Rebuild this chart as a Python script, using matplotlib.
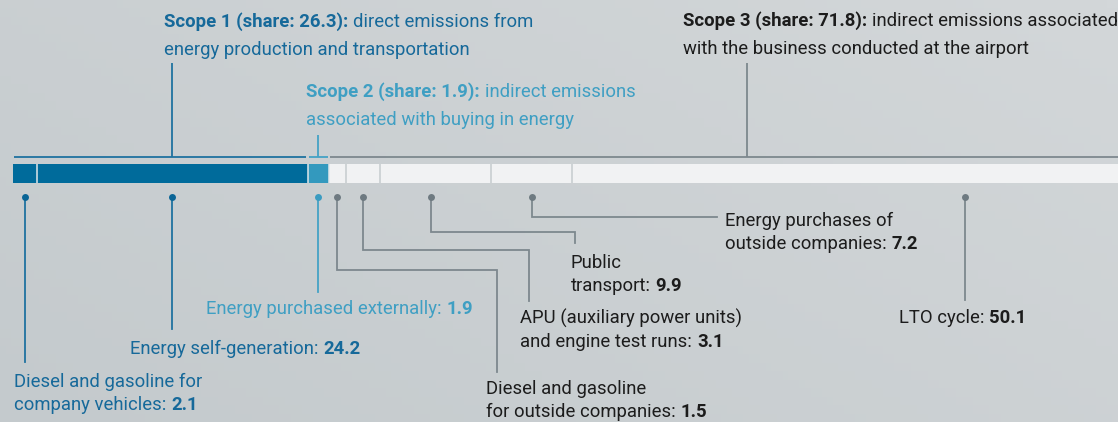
import matplotlib
matplotlib.use("Agg")
import matplotlib.pyplot as plt
import numpy as np
from matplotlib import font_manager as fm
from matplotlib.colors import LinearSegmentedColormap

# ---------------- data ----------------
categories = [
    "Diesel and gasoline for company vehicles",
    "Energy self-generation",
    "Energy purchased externally",
    "Diesel and gasoline for outside companies",
    "APU (auxiliary power units) and engine test runs",
    "Public transport",
    "Energy purchases of outside companies",
    "LTO cycle",
]
values = [2.1, 24.2, 1.9, 1.5, 3.1, 9.9, 7.2, 50.1]
scope_of = [0, 0, 1, 2, 2, 2, 2, 2]
scope_names = ["Scope 1", "Scope 2", "Scope 3"]
scope_shares = [26.3, 1.9, 71.8]
scope_desc_l1 = ["direct emissions from", "indirect emissions", "indirect emissions associated"]
scope_desc_l2 = ["energy production and transportation", "associated with buying in energy",
                 "with the business conducted at the airport"]

# ---------------- style / layout ----------------
W, H = 1118, 422
cands = ["Roboto", "Liberation Sans"]
FONT = "DejaVu Sans"
for c in cands:
    try:
        fm.findfont(c, fallback_to_default=False)
        FONT = c
        break
    except Exception:
        pass
FS = 13.3

scope_bar = ["#006b9b", "#3399be", "#f1f2f3"]
scope_line = ["#1f72a0", "#45a2c5", "#7d888e"]
scope_dot = ["#0a6596", "#3a9cc1", "#6e7a81"]
scope_text = ["#16699a", "#3f9fc3", "#1c1c1c"]
sep_colors = ["#dfe6ea", "#dfe6ea", "#dfe6ea", "#c5cbce", "#c5cbce", "#c5cbce", "#c5cbce"]

anchor_frac = [0.5, 0.5, 0.5, 0.5, 0.5, 0.46, 0.5, 0.70]
scope_anchor_frac = [0.54, 0.5, 0.52]

fig = plt.figure(figsize=(W / 100, H / 100), dpi=100)

# background gradient
bg = fig.add_axes([0, 0, 1, 1], zorder=0)
bg.set_axis_off()
yy, xx = np.mgrid[0:1:50j, 0:1:200j]
grad = 0.6 * xx + 0.4 * (1 - yy)
cmap = LinearSegmentedColormap.from_list("bg", ["#c4cacd", "#d3d7d9"])
bg.imshow(grad, cmap=cmap, aspect="auto", extent=[0, 1, 0, 1], origin="upper")

# data axes (x in data units, y in pixels from top)
ax = fig.add_axes([0, 0, 1, 1], zorder=1)
ax.set_axis_off()
ax.patch.set_alpha(0)
ax.set_xlim(-13 / 11.2, (W - 13) / 11.2)
ax.set_ylim(H, 0)

lefts = np.concatenate([[0], np.cumsum(values)[:-1]])
bar_cols = [scope_bar[s] for s in scope_of]
ax.barh([173.5] * len(values), values, left=lefts, height=19, color=bar_cols, linewidth=0)
for i in range(1, len(values)):
    ax.vlines(lefts[i], 164, 183, color=sep_colors[i - 1], lw=1.1)

# layout overlay in pixel coordinates
lay = fig.add_axes([0, 0, 1, 1], zorder=2)
lay.set_axis_off()
lay.patch.set_alpha(0)
lay.set_xlim(0, W)
lay.set_ylim(H, 0)

renderer = fig.canvas.get_renderer()


def to_px(v):
    return ax.transData.transform((v, 0))[0]


def twidth(s, weight):
    t = lay.text(0, 0, s, fontsize=FS, fontweight=weight, family=FONT)
    w = t.get_window_extent(renderer).width
    t.remove()
    return w


SPACE = twidth("a a", "normal") - twidth("aa", "normal")


def rich(x, y, parts, color):
    cur = x
    for s, w in parts:
        if s.startswith(" "):
            cur += SPACE
            s = s[1:]
        t = lay.text(cur, y, s, color=color, fontsize=FS, fontweight=w, family=FONT,
                     ha="left", va="baseline")
        cur += t.get_window_extent(renderer).width


# scope brackets
scope_lo = [0.0, scope_shares[0], scope_shares[0] + scope_shares[1]]
bracket_top = [63, 135, 63]
for k in range(3):
    lo = scope_lo[k]
    hi = lo + scope_shares[k]
    ax.hlines(157, lo + 0.1, hi - 0.1, color=scope_line[k], lw=1.3)
    xa = to_px(lo + scope_anchor_frac[k] * scope_shares[k])
    lay.vlines(xa, bracket_top[k], 157, color=scope_line[k], lw=1.3)

head_pos = [(164, 26.7), (306.5, 96.7), (683, 26.0)]
for k in range(3):
    x0, y0 = head_pos[k]
    rich(x0, y0, [(f"{scope_names[k]} (share: {scope_shares[k]}):", "bold"),
                  (" " + scope_desc_l1[k], "normal")], scope_text[k])
    rich(x0, y0 + 28, [(scope_desc_l2[k], "normal")], scope_text[k])

# markers and leader paths
paths = [
    [(None, 362)],
    [(None, 329)],
    [(None, 292)],
    [(None, 270), (496.5, 270), (496.5, 372)],
    [(None, 250), (529, 250), (529, 301)],
    [(None, 232), (575, 232), (575, 243)],
    [(None, 217), (717, 217)],
    [(None, 300)],
]
label_lines = [
    (14, 387, [[("Diesel and gasoline for", "normal")], [("company vehicles:", "normal"), (" 2.1", "bold")]]),
    (130, 354, [[("Energy self-generation:", "normal"), (" 24.2", "bold")]]),
    (206, 314, [[("Energy purchased externally:", "normal"), (" 1.9", "bold")]]),
    (486, 394, [[("Diesel and gasoline", "normal")], [("for outside companies:", "normal"), (" 1.5", "bold")]]),
    (520.5, 324, [[("APU (auxiliary power units)", "normal")], [("and engine test runs:", "normal"), (" 3.1", "bold")]]),
    (571, 268, [[("Public", "normal")], [("transport:", "normal"), (" 9.9", "bold")]]),
    (725, 225.7, [[("Energy purchases of", "normal")], [("outside companies:", "normal"), (" 7.2", "bold")]]),
    (899, 323, [[("LTO cycle:", "normal"), (" 50.1", "bold")]]),
]

for i, v in enumerate(values):
    s = scope_of[i]
    xa = to_px(lefts[i] + anchor_frac[i] * v)
    pts = [(xa, 197)]
    for (px, py) in paths[i]:
        pts.append((xa if px is None else px, py))
    xs, ys = zip(*pts)
    lay.plot(xs, ys, color=scope_line[s], lw=1.3, solid_joinstyle="miter")
    lay.plot([xa], [197], "o", ms=5, color=scope_dot[s], mec="none")
    x0, y0, lines = label_lines[i]
    for j, parts in enumerate(lines):
        rich(x0, y0 + 23 * j, parts, scope_text[s])

fig.savefig("out.png", dpi=100)
